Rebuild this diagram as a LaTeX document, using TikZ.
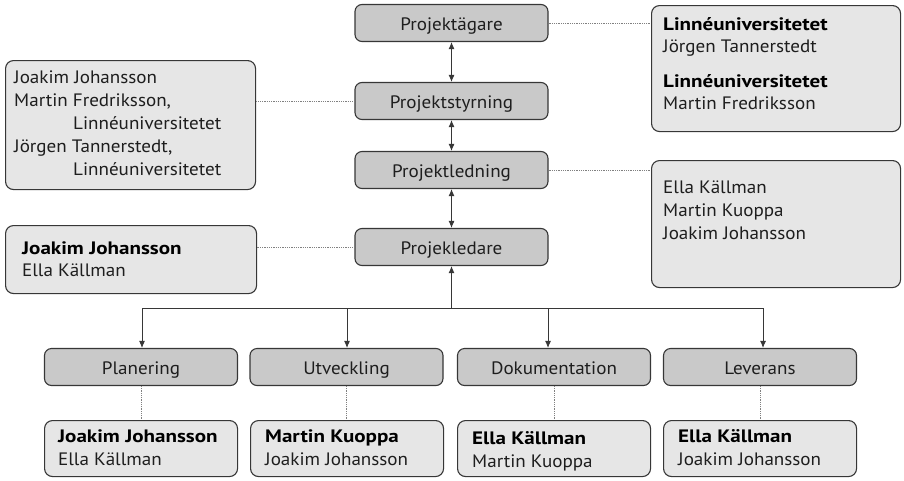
\documentclass[tikz,border=0pt]{standalone}
\usepackage{fontspec}
\setmainfont{PT Sans}[FakeStretch=1.06, BoldFeatures={FakeStretch=1.17}]
\usetikzlibrary{arrows.meta}
\definecolor{darkfill}{RGB}{201,201,201}
\definecolor{lightfill}{RGB}{230,230,230}
\definecolor{linec}{RGB}{55,55,55}
\definecolor{txtc}{RGB}{30,30,30}
\newcommand{\fsz}{\fontsize{18}{23}\selectfont}
\tikzset{
  darkbox/.style={draw=linec, fill=darkfill, rounded corners=7pt, line width=1.1pt,
    minimum width=193pt, minimum height=37pt, inner sep=0pt, font=\fsz, text=txtc,
    text height=14.6pt, text depth=0pt},
  lightbox/.style={draw=linec, fill=lightfill, rounded corners=8pt, line width=1.1pt,
    inner sep=0pt, anchor=north west},
  txt/.style={anchor=base west, inner sep=0pt, font=\fsz, text=txtc},
  btxt/.style={txt, font=\fsz\bfseries, text=black},
  dotline/.style={draw=gray, line width=0.6pt, dash pattern=on 0.9pt off 0.9pt},
  conn/.style={draw=linec, line width=0.9pt},
  tip/.style={-{Latex[length=7pt,width=6pt]}},
  dtip/.style={{Latex[length=7pt,width=6pt]}-{Latex[length=7pt,width=6pt]}}
}
\begin{document}
\begin{tikzpicture}[x=1pt,y=-1pt]
\useasboundingbox (0,0) rectangle (904,480);
% central column
\node[darkbox] (pa) at (451.5,23) {Projektägare};
\node[darkbox] (ps) at (451.5,101) {Projektstyrning};
\node[darkbox] (pl) at (451.5,170) {Projektledning};
\node[darkbox] (pd) at (451.5,247) {Projekledare};
% side boxes
\node[lightbox, minimum width=249pt, minimum height=126pt] (rt) at (651,5) {};
\node[lightbox, minimum width=250pt, minimum height=129pt] (lt) at (5,60) {};
\node[lightbox, minimum width=249pt, minimum height=127pt] (rb) at (651,160) {};
\node[lightbox, minimum width=251pt, minimum height=68pt] (lb) at (5,225) {};
% texts of side boxes
\node[btxt] (rt1) at (663,30) {Linnéuniversitetet};
\node[txt] (rt2) at (663,52) {Jörgen Tannerstedt};
\node[btxt] (rt3) at (663,87) {Linnéuniversitetet};
\node[txt] (rt4) at (663,109) {Martin Fredriksson};
\node[txt] (lt1) at (14,83) {Joakim Johansson};
\node[txt] (lt2) at (14,106) {Martin Fredriksson,};
\node[txt] (lt3) at (73,129) {Linnéuniversitetet};
\node[txt] (lt4) at (14,152) {Jörgen Tannerstedt,};
\node[txt] (lt5) at (73,175) {Linnéuniversitetet};
\node[txt] (rb1) at (663,193) {Ella Källman};
\node[txt] (rb2) at (663,216) {Martin Kuoppa};
\node[txt] (rb3) at (663,239) {Joakim Johansson};
\node[btxt] (lb1) at (22,254) {Joakim Johansson};
\node[txt] (lb2) at (22,276) {Ella Källman};
% bottom row
\node[darkbox] (plan) at (141,367) {Planering};
\node[darkbox] (utv) at (346.5,367) {Utveckling};
\node[darkbox] (dok) at (554,367) {Dokumentation};
\node[darkbox] (lev) at (760,367) {Leverans};
\node[lightbox, minimum width=193pt, minimum height=56pt] (b1) at (44,420) {};
\node[lightbox, minimum width=193pt, minimum height=56pt] (b2) at (250,420) {};
\node[lightbox, minimum width=193pt, minimum height=56pt] (b3) at (457,420) {};
\node[lightbox, minimum width=193pt, minimum height=56pt] (b4) at (663,420) {};
\node[btxt] (b1a) at (58,442) {Joakim Johansson};
\node[txt] (b1b) at (58,465) {Ella Källman};
\node[btxt] (b2a) at (265,442) {Martin Kuoppa};
\node[txt] (b2b) at (265,465) {Joakim Johansson};
\node[btxt] (b3a) at (472,444) {Ella Källman};
\node[txt] (b3b) at (472,467) {Martin Kuoppa};
\node[btxt] (b4a) at (678,442) {Ella Källman};
\node[txt] (b4b) at (678,465) {Joakim Johansson};
% dotted links
\draw[dotline] (pa.east) -- (pa.east -| rt.west);
\draw[dotline] (ps.west) -- (ps.west -| lt.east);
\draw[dotline] (pl.east) -- (pl.east -| rb.west);
\draw[dotline] (pd.west) -- (pd.west -| lb.east);
\draw[dotline] (plan.south) -- (plan.south |- b1.north);
\draw[dotline] (utv.south) -- (utv.south |- b2.north);
\draw[dotline] (dok.south) -- (dok.south |- b3.north);
\draw[dotline] (lev.south) -- (lev.south |- b4.north);
% arrows
\draw[conn,dtip] (pa.south) -- (ps.north);
\draw[conn,dtip] (ps.south) -- (pl.north);
\draw[conn,dtip] (pl.south) -- (pd.north);
\coordinate (hub) at (451.5,308);
\coordinate (xa) at (142,308);
\coordinate (xb) at (347,308);
\coordinate (xc) at (548,308);
\coordinate (xd) at (763,308);
\draw[conn,tip] (hub) -- (pd.south);
\draw[conn] (xa) -- (xd);
\draw[conn,tip] (xa) -- (plan.north -| xa);
\draw[conn,tip] (xb) -- (utv.north -| xb);
\draw[conn,tip] (xc) -- (dok.north -| xc);
\draw[conn,tip] (xd) -- (lev.north -| xd);
\end{tikzpicture}
\end{document}
